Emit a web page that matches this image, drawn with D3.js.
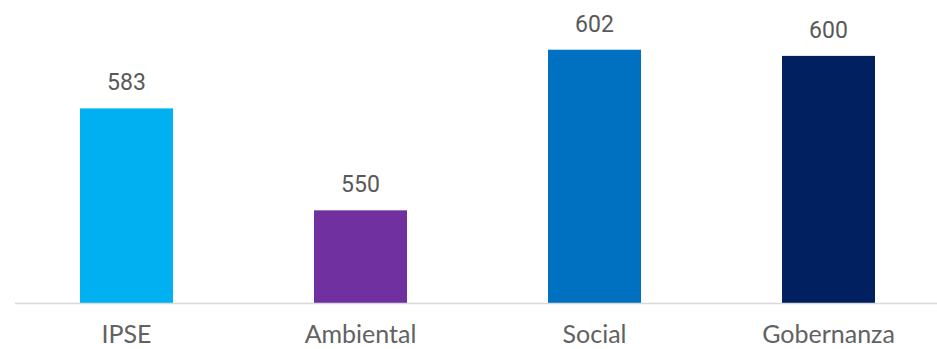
<!DOCTYPE html>
<html>
<head>
<meta charset="utf-8">
<script src="https://cdn.jsdelivr.net/npm/d3@7"></script>
<style>
  body { margin: 0; background: #fff; }
  .val { font-family: Roboto, sans-serif; font-size: 23px; fill: #595959; }
  .cat { font-family: Lato, sans-serif; font-size: 25px; fill: #626262; }
</style>
</head>
<body>
<div id="chart"></div>
<script>
var categories = ["IPSE", "Ambiental", "Social", "Gobernanza"];
var values = [583, 550, 602, 600];
var barColors = ["#00b0f0", "#7030a0", "#0070c0", "#002060"];

var width = 937, height = 349;

var svg = d3.select("#chart").append("svg")
    .attr("width", width)
    .attr("height", height);

var x = d3.scaleBand()
    .domain(categories)
    .range([9.5, 945.5])
    .paddingInner(0.6026)
    .paddingOuter(0.3013);

var y = d3.scaleLinear()
    .domain([520, 610])
    .range([303, 25]);

svg.selectAll(".bar")
    .data(values)
    .enter().append("rect")
    .attr("class", "bar")
    .attr("x", function(d, i) { return x(categories[i]); })
    .attr("width", x.bandwidth())
    .attr("y", function(d) { return y(d); })
    .attr("height", function(d) { return y(520) - y(d); })
    .attr("fill", function(d, i) { return barColors[i]; });

// baseline
svg.append("line")
    .attr("x1", 15).attr("x2", 937)
    .attr("y1", 303.5).attr("y2", 303.5)
    .attr("stroke", "#d9d9d9")
    .attr("stroke-width", 1.5);

svg.selectAll(".val")
    .data(values)
    .enter().append("text")
    .attr("class", "val")
    .attr("text-anchor", "middle")
    .attr("x", function(d, i) { return x(categories[i]) + x.bandwidth() / 2; })
    .attr("y", function(d) { return y(d) - 18; })
    .text(function(d) { return d; });

svg.selectAll(".cat")
    .data(categories)
    .enter().append("text")
    .attr("class", "cat")
    .attr("text-anchor", "middle")
    .attr("x", function(d) { return x(d) + x.bandwidth() / 2; })
    .attr("y", 343)
    .text(function(d) { return d; });
</script>
</body>
</html>
